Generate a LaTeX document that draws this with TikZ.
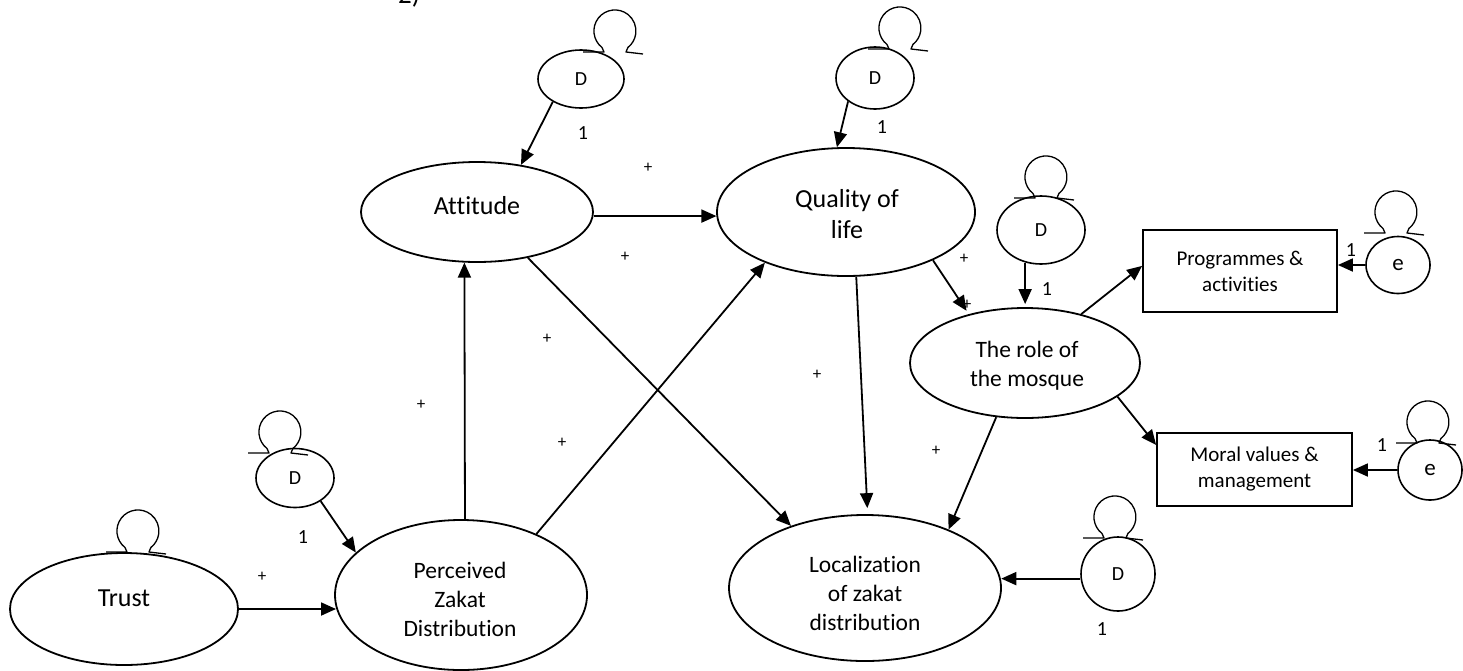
\documentclass[tikz,border=0pt]{standalone}
\usepackage{fontspec}
\setmainfont{Carlito}[Ligatures=CommonOff]
\usetikzlibrary{shapes.geometric,arrows.meta}

\begin{document}
\begin{tikzpicture}[x=1pt,y=-1pt,
  construct/.style={draw, ellipse, line width=1.8pt, inner sep=0pt},
  dist/.style={draw, ellipse, line width=1.6pt, inner sep=0pt,
    font=\fontsize{20}{24}\selectfont},
  indicator/.style={draw, rectangle, line width=1.8pt, inner sep=0pt},
  bigtxt/.style={inner sep=0pt, align=center, font=\fontsize{26}{31}\selectfont},
  midtxt/.style={inner sep=0pt, align=center, font=\fontsize{23.5}{29}\selectfont},
  smalltxt/.style={inner sep=0pt, align=center, font=\fontsize{21}{26}\selectfont},
  weight/.style={inner sep=0pt, font=\fontsize{20}{24}\selectfont},
  sign/.style={inner sep=0pt, font=\fontsize{17}{20}\selectfont},
  link/.style={line width=1.8pt, -{Triangle[length=15pt,width=13pt]}},
  loopmark/.pic={
    \draw[line width=1.3pt, line join=round]
      (-32,21) -- (-11,21) -- (-13,16.5)
      arc[start angle=232, end angle=-52, radius=21pt]
      -- (11,21) -- (28,23);
  }
]
\useasboundingbox (0,0) rectangle (1463,670);

% caption fragment at the top edge
\node[anchor=base west, inner sep=0pt, font=\fontsize{27}{30}\selectfont] (cap) at (398,3) {2)};

% latent constructs
\node[construct, minimum width=228pt, minimum height=112pt] (trust) at (124,609) {};
\node[construct, minimum width=252pt, minimum height=150pt] (perc)  at (461,595) {};
\node[construct, minimum width=232pt, minimum height=100pt] (att)   at (477,212) {};
\node[construct, minimum width=258pt, minimum height=128pt] (qol)   at (846,212) {};
\node[construct, minimum width=230pt, minimum height=110pt] (mosq)  at (1025,363) {};
\node[construct, minimum width=272pt, minimum height=146pt] (loc)   at (865,588) {};

\node[bigtxt] (trustT) at (124,598) {Trust};
\node[midtxt] (percT)  at (460,599) {Perceived\\Zakat\\Distribution};
\node[bigtxt] (attT)   at (477,206) {Attitude};
\node[bigtxt] (qolT)   at (847,214) {Quality of\\life};
\node[midtxt] (mosqT)  at (1027,366) {The role of\\the mosque};
\node[midtxt] (locT)   at (865,593) {Localization\\of zakat\\distribution};

% observed indicators
\node[indicator, minimum width=194pt, minimum height=82pt, smalltxt] (prog)  at (1240,271) {Programmes \&\\activities};
\node[indicator, minimum width=195pt, minimum height=73pt, smalltxt] (moral) at (1254.5,469.5) {Moral values \&\\management};

% disturbance and error terms
\node[dist, minimum width=78pt, minimum height=59pt] (dPer) at (295,478) {D};
\node[dist, minimum width=86pt, minimum height=58pt] (dAtt) at (581,79)  {D};
\node[dist, minimum width=78pt, minimum height=62pt] (dQol) at (875,78)  {D};
\node[dist, minimum width=88pt, minimum height=68pt] (dMos) at (1041,230) {D};
\node[dist, minimum width=74pt, minimum height=74pt] (dLoc) at (1118,574) {D};
\node[dist, minimum width=64pt, minimum height=57pt, font=\fontsize{23}{26}\selectfont] (eProg) at (1398,265) {e};
\node[dist, minimum width=64pt, minimum height=60pt, font=\fontsize{23}{26}\selectfont] (eMor)  at (1430,470) {e};

% variance loops
\pic (lTrust) at (138,531) {loopmark};
\pic (lPer)   at (280,432) {loopmark};
\pic (lAtt)   at (615,31)  {loopmark};
\pic (lQol)   at (900,28)  {loopmark};
\pic (lMos)   at (1046,177) {loopmark};
\pic (lProg)  at (1396,212) {loopmark};
\pic (lMor)   at (1428,422) {loopmark};
\pic (lLoc)   at (1115,517) {loopmark};

% structural paths
\draw[link] (trust.east) -- (trust.east -| perc.186.5);
\draw[link] (dPer.-42.8) -- (perc.158.4);
\draw[link] (perc.87) -- (att.256.2);
\draw[link] (dAtt.219.3) -- (att.47.4);
\draw[link] (att.-2.5) -- (att.-2.5 -| qol.182.2);
\draw[link] (dQol.221.6) -- (qol.98);
\draw[link] (att.-42.5) -- (loc.140.4);
\draw[link] (perc.39.4) -- (qol.212.2);
\draw[link, shorten >=6pt] (qol.279.6) -- (loc.88.5);
\draw[link, shorten >=4pt] (qol.-29.2) -- (mosq.139.2);
\draw[link, shorten >=3pt] (dMos.244.8) -- (dMos.244.8 |- mosq.north);
\draw[link] (mosq.41.8) -- (prog.177);
\draw[link] (eProg.west) -- (eProg.west -| prog.east);
\draw[link] (mosq.-20.3) -- (moral.166.4);
\draw[link] (eMor.west) -- (eMor.west -| moral.east);
\draw[link] (mosq.242.6) -- (loc.35.1);
\draw[link] (dLoc.187.7) -- (dLoc.187.7 -| loc.3.8);

% fixed loadings
\node[weight] (w1) at (303,537) {1};
\node[weight] (w2) at (583,133) {1};
\node[weight] (w3) at (882,127) {1};
\node[weight] (w4) at (1047,289) {1};
\node[weight] (w5) at (1351,250) {1};
\node[weight] (w6) at (1382,445) {1};
\node[weight] (w7) at (1102,629) {1};

% signs of the paths
\node[sign] (s1)  at (262,577) {+};
\node[sign] (s2)  at (421,405) {+};
\node[sign] (s3)  at (547,339) {+};
\node[sign] (s4)  at (562,443) {+};
\node[sign] (s5)  at (625,257) {+};
\node[sign] (s6)  at (648,168) {+};
\node[sign] (s7)  at (817,375) {+};
\node[sign] (s8)  at (964,259) {+};
\node[sign] (s9)  at (967,305) {+};
\node[sign] (s10) at (936,451) {+};
\end{tikzpicture}
\end{document}
